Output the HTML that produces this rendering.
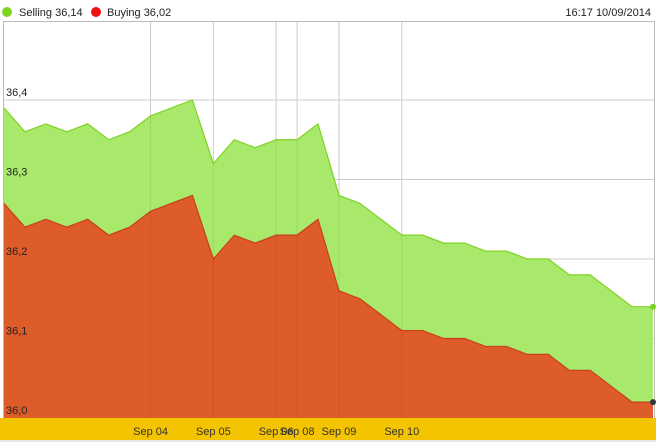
<!DOCTYPE html>
<html><head><meta charset="utf-8"><style>
body{margin:0;width:656px;height:443px;overflow:hidden;background:#fff;font-family:"Liberation Sans",sans-serif}
</style></head><body>
<svg width="656" height="443" style="position:absolute;left:0;top:0">
<g font-size="11" fill="#222">
<circle cx="7" cy="12" r="5" fill="#7ed321"/>
<text x="19" y="16">Selling 36,14</text>
<circle cx="96" cy="12" r="5" fill="#ee1111"/>
<text x="107" y="16">Buying 36,02</text>
<text x="651" y="16" text-anchor="end">16:17 10/09/2014</text>
</g>
<rect x="3.5" y="21.5" width="651" height="397" fill="none" stroke="#bbb"/>
<g id="grid"></g>
<g id="areas"></g>
<g id="grid2"></g>
<rect x="0" y="418" width="656" height="22" fill="#f5c400"/>
<line x1="0" x2="656" y1="441" y2="441" stroke="#ccc"/>
<g id="xlabels" font-size="11" fill="#333"></g>
<g id="ylabels" font-size="11" fill="#222"></g>
<g id="dots"></g>
</svg>
<script>
const selling=[36.39,36.36,36.37,36.36,36.37,36.35,36.36,36.38,36.39,36.40,36.32,36.35,36.34,36.35,36.35,36.37,36.28,36.27,36.25,36.23,36.23,36.22,36.22,36.21,36.21,36.20,36.20,36.18,36.18,36.16,36.14,36.14];
const buying=[36.27,36.24,36.25,36.24,36.25,36.23,36.24,36.26,36.27,36.28,36.20,36.23,36.22,36.23,36.23,36.25,36.16,36.15,36.13,36.11,36.11,36.10,36.10,36.09,36.09,36.08,36.08,36.06,36.06,36.04,36.02,36.02];
const xTickIdx=[7,10,13,14,16,19];
const xTickLabels=["Sep 04","Sep 05","Sep 06","Sep 08","Sep 09","Sep 10"];
const yTicks=[36.0,36.1,36.2,36.3,36.4];
const yTickLabels=["36,0","36,1","36,2","36,3","36,4"];
const NS="http://www.w3.org/2000/svg";
const x=i=>4+i*(649/(selling.length-1));
const y=v=>418-(v-36.0)*795;
function mk(t,a,p){const e=document.createElementNS(NS,t);for(const k in a)e.setAttribute(k,a[k]);p.appendChild(e);return e;}
const grid=document.getElementById('grid');
const grid2=document.getElementById('grid2');
yTicks.forEach((v,i)=>{if(i===0)return;const l=mk('line',{x1:4,x2:654,y1:y(v),y2:y(v),stroke:'#ccc'},grid);

});
xTickIdx.forEach(i=>{const l=mk('line',{x1:x(i),x2:x(i),y1:22,y2:418,stroke:'#ccc'},grid);

});
const areas=document.getElementById('areas');
function area(d,fill,stroke,name){let p='M'+x(0)+','+418;d.forEach((v,i)=>p+='L'+x(i)+','+y(v));p+='L'+x(d.length-1)+',418Z';
const a=mk('path',{d:p,fill:fill},areas);


let q='';d.forEach((v,i)=>q+=(i?'L':'M')+x(i)+','+y(v));
const l=mk('path',{d:q,fill:'none',stroke:stroke,'stroke-width':1.2},areas);

}
area(selling,'#a8e96c','#7ed321','selling');
area(buying,'#dd5c2a','#c8401a','buying');
xTickIdx.forEach(i=>{mk('line',{x1:x(i),x2:x(i),y1:y(selling[i]),y2:418,stroke:'#000','stroke-opacity':0.07},grid2);});
const xl=document.getElementById('xlabels');
xTickIdx.forEach((i,k)=>{const t=mk('text',{x:x(i),y:435,'text-anchor':'middle'},xl);t.textContent=xTickLabels[k];

});
const yl=document.getElementById('ylabels');
yTicks.forEach((v,k)=>{const t=mk('text',{x:6,y:y(v)-4},yl);t.textContent=yTickLabels[k];

});
const dots=document.getElementById('dots');
const d1=mk('circle',{cx:x(selling.length-1),cy:y(selling[selling.length-1]),r:3,fill:'#7ed321'},dots);


const d2=mk('circle',{cx:x(buying.length-1),cy:y(buying[buying.length-1]),r:3,fill:'#334'},dots);


</script>
</body></html>
